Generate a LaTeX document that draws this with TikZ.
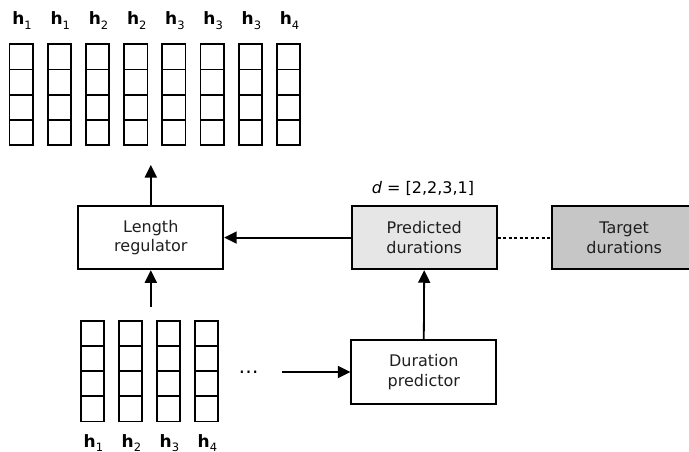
\documentclass[tikz,border=0pt]{standalone}
\usepackage{fontspec}
\setmainfont{DejaVu Sans}
\usetikzlibrary{arrows.meta}
\definecolor{predfill}{HTML}{E6E6E6}
\definecolor{targfill}{HTML}{C6C6C6}
\newcommand{\hvec}[1]{{\fontsize{17}{18}\selectfont\bfseries h}\raisebox{-4.2pt}{\fontsize{11.5}{12}\selectfont #1}}
\tikzset{
  cell/.style={draw, line width=1.7pt, minimum width=23.3pt, minimum height=25.2pt, inner sep=0pt, outer sep=0pt},
  block/.style={draw, line width=1.8pt, minimum width=145pt, minimum height=63.5pt, align=center,
    font=\fontsize{16}{19.4}\selectfont, text=black!88, inner sep=0pt},
  hlabel/.style={anchor=base, inner sep=0pt},
  flow/.style={line width=1.8pt, -{Triangle[length=12.5pt,width=12pt]}},
}
\begin{document}
\begin{tikzpicture}[x=1pt, y=-1pt]
  \useasboundingbox (0,0) rectangle (689,452);
  \clip (0,0) rectangle (689,452);

  % expanded hidden sequence (top)
  \foreach \i/\s in {0/1,1/1,2/2,3/2,4/3,5/3,6/3,7/4} {
    \pgfmathsetmacro{\cx}{21.1+38.21*\i}
    \foreach \j in {0,1,2,3} {
      \node[cell] (top\i-\j) at (\cx, 56.9+25.25*\j) {};
    }
    \node[hlabel] (toplab\i) at (\cx+1, 25) {\hvec{\s}};
  }

  % phoneme hidden sequence (bottom)
  \foreach \i in {0,1,2,3} {
    \pgfmathsetmacro{\cx}{92.4+38*\i}
    \foreach \j in {0,1,2,3} {
      \node[cell] (bot\i-\j) at (\cx, 333.3+25.15*\j) {};
    }
    \pgfmathtruncatemacro{\k}{\i+1}
    \node[hlabel] (botlab\i) at (\cx+1, 447) {\hvec{\k}};
  }
  \node[inner sep=0pt] (dots) at (248.5, 374.5) {\fontsize{20}{20}\selectfont ⋯};

  % processing blocks
  \node[block] (lr) at (150.8, 237.6) {Length\\regulator};
  \node[block, fill=predfill] (pd) at (424.2, 237.6) {Predicted\\durations};
  \node[block, fill=targfill] (td) at (624.2, 237.6) {Target\\durations};
  \node[block] (dp) at (423.8, 372) {Duration\\predictor};
  \node[inner sep=0pt] (dlab) at (423, 188) {\fontsize{16}{19}\selectfont\textit{d} = [2,2,3,1]};

  % connectors
  \coordinate (lrout) at (150.8, 165);
  \coordinate (lrin) at (150.8, 306.7);
  \coordinate (dpin) at (282, 372);
  \draw[flow] (lr.north) -- (lrout);
  \draw[flow] (lrin) -- (lr.south);
  \draw[flow] (pd.west) -- (lr.east);
  \draw[flow] (dp.north) -- (pd.south);
  \draw[flow] (dpin) -- (dp.west);
  \draw[line width=1.8pt, dash pattern=on 3pt off 2.5pt] (pd.east) -- (td.west);
\end{tikzpicture}
\end{document}
